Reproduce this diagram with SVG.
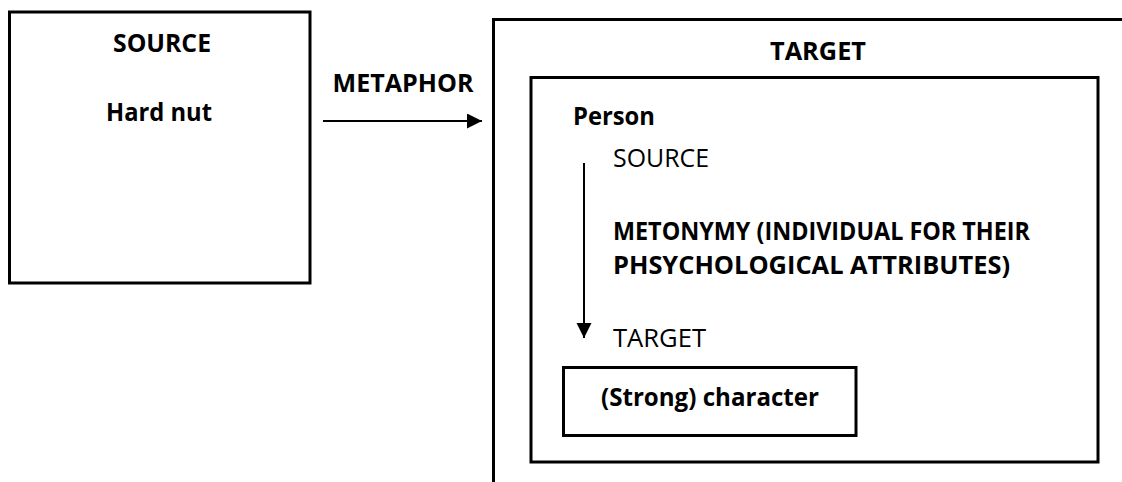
<svg xmlns="http://www.w3.org/2000/svg" width="1122" height="482" viewBox="0 0 1122 482">
<style>
.box{fill:none;stroke:#000;stroke-width:3}
.con{stroke:#000;stroke-width:2;fill:none}
.b{font-family:"Open Sans","Liberation Sans",sans-serif;font-weight:bold;font-size:25.5px;fill:#000}
.r{font-family:"Open Sans","Liberation Sans",sans-serif;font-size:25.5px;fill:#000}
.m{font-size:24.5px}
</style>
<defs>
<marker id="ah" markerWidth="16" markerHeight="16" refX="15" refY="7.5" orient="auto" markerUnits="userSpaceOnUse">
<path d="M0,0 L15,7.5 L0,15 Z" fill="#000"/>
</marker>
</defs>
<rect width="1122" height="482" fill="#fff"/>
<g id="source">
<rect class="box" x="9.5" y="12" width="300.5" height="271"/>
<text class="b" x="162" y="52" text-anchor="middle" textLength="98" lengthAdjust="spacingAndGlyphs">SOURCE</text>
<text class="b" x="159" y="121" text-anchor="middle" textLength="106" lengthAdjust="spacingAndGlyphs">Hard nut</text>
</g>
<g id="target">
<path class="box" d="M493.5,482 V19.5 H1122"/>
<text class="b" x="818" y="60" text-anchor="middle" textLength="96" lengthAdjust="spacingAndGlyphs">TARGET</text>
</g>
<g id="person">
<rect class="box" x="531" y="77.5" width="567" height="384.5"/>
<text class="b" x="573" y="125" textLength="82" lengthAdjust="spacingAndGlyphs">Person</text>
<text class="r" x="613" y="167" textLength="96" lengthAdjust="spacingAndGlyphs">SOURCE</text>
<text class="b m" x="613" y="240" textLength="417" lengthAdjust="spacingAndGlyphs">METONYMY (INDIVIDUAL FOR THEIR</text>
<text class="b m" x="613" y="274" textLength="397" lengthAdjust="spacingAndGlyphs">PHSYCHOLOGICAL ATTRIBUTES)</text>
<text class="r" x="613" y="347" textLength="93" lengthAdjust="spacingAndGlyphs">TARGET</text>
</g>
<g id="character">
<rect class="box" x="563.5" y="367.5" width="292.5" height="68"/>
<text class="b" x="710" y="406" text-anchor="middle" textLength="218" lengthAdjust="spacingAndGlyphs">(Strong) character</text>
</g>
<g id="connectors">
<line class="con" x1="323" y1="121" x2="482" y2="121" marker-end="url(#ah)"/>
<line class="con" x1="584" y1="163" x2="584" y2="338" marker-end="url(#ah)"/>
</g>
<g id="labels">
<text class="b" x="403" y="92" text-anchor="middle" textLength="141" lengthAdjust="spacingAndGlyphs">METAPHOR</text>
</g>
</svg>
